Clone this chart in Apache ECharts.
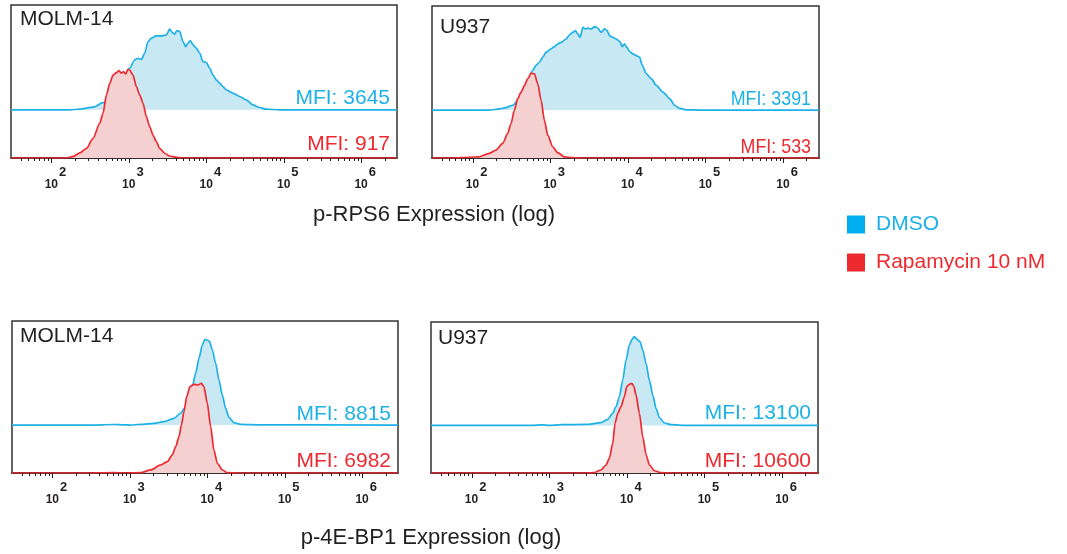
<!DOCTYPE html>
<html>
<head>
<meta charset="utf-8">
<script src="https://cdn.jsdelivr.net/npm/echarts@6/dist/echarts.min.js"></script>
<style>
html,body{margin:0;padding:0;background:#fff;}
#chart{width:1067px;height:554px;}
</style>
</head>
<body>
<div id="chart"></div>
<script>
// ---------- DATA ----------
const panelTitles = ['MOLM-14', 'U937', 'MOLM-14', 'U937'];
const axisTitles = ['p-RPS6 Expression (log)', 'p-4E-BP1 Expression (log)'];
const legendNames = ['DMSO', 'Rapamycin 10 nM'];
const mfiDmso = ['MFI: 3645', 'MFI: 3391', 'MFI: 8815', 'MFI: 13100'];
const mfiRapa = ['MFI: 917', 'MFI: 533', 'MFI: 6982', 'MFI: 10600'];
const majorTickValues = [100, 1000, 10000, 100000, 1000000];
const minorTickMultipliers = [2, 3, 4, 5, 6, 7, 8, 9];

// histogram heights (fluorescence value, relative event count)
const rps6MolmDmso = [[30,0],[172,0],[232,0.4],[345,1.7],[463,4.7],[565,5.9],[760,16.5],[1023,27.2],[1188,32.7],[1313,33.7],[1449,32.9],[1600,37.0],[1766,44.6],[1950,46.8],[2263,48.3],[2626,48.3],[3047,49.0],[3360,52.7],[3641,50.5],[3898,49.4],[4177,51.8],[4523,51.2],[4993,44.6],[5408,41.3],[5795,43.6],[6220,45.3],[6717,42.5],[7424,40.3],[8200,37.0],[9045,31.5],[10000,30.9],[11040,27.2],[12170,22.8],[13450,19.6],[14860,17.4],[16380,15.2],[18110,13.0],[22030,10.9],[26900,8.7],[32810,6.5],[39920,3.2],[48700,1.5],[59430,0.4],[88300,0],[2900000,0]];
const rps6MolmRapa = [[30,0],[156,0],[190,1.0],[232,3.3],[283,6.3],[345,12.9],[420,22.7],[463,29.2],[513,41.2],[565,48.8],[624,54.2],[690,55.8],[745,57.1],[800,55.4],[857,56.4],[909,54.9],[973,58.0],[1023,57.5],[1130,54.2],[1250,46.6],[1378,41.2],[1521,35.8],[1682,27.0],[1855,20.5],[2047,15.0],[2263,10.7],[2497,6.3],[2896,3.1],[3360,1.3],[4100,0.5],[5000,0],[2900000,0]];
const rps6U937Dmso = [[30,0],[164,0],[221,0.8],[270,1.7],[328,3.2],[401,7.6],[489,16.3],[594,26.1],[657,29.4],[726,31.5],[800,34.8],[885,38.1],[1027,40.3],[1133,41.8],[1250,43.6],[1383,44.6],[1603,46.8],[1770,49.6],[1950,51.1],[2113,52.3],[2263,50.1],[2431,47.9],[2626,54.4],[2844,53.4],[3047,54.0],[3373,53.4],[3718,54.9],[4103,54.0],[4537,51.1],[5004,53.4],[5420,52.3],[5803,49.0],[6400,47.9],[7080,46.8],[7812,45.3],[8468,41.8],[9062,43.6],[9707,41.3],[10510,38.7],[11610,37.0],[12830,35.9],[14160,34.8],[15350,29.4],[17270,24.0],[20030,20.7],[23240,16.3],[28330,11.9],[34540,7.6],[40070,3.2],[46500,1.1],[56750,0.2],[84200,0],[2900000,0]];
const rps6U937Rapa = [[30,0],[55,0],[91,0.5],[122,0.8],[164,3.1],[200,5.2],[244,9.6],[283,16.1],[313,22.7],[345,31.4],[381,39.0],[421,43.3],[465,47.7],[513,52.1],[567,55.8],[626,55.4],[691,48.8],[764,37.9],[842,24.8],[929,15.0],[1077,7.4],[1250,3.5],[1524,0.8],[1950,0.2],[2500,0],[2900000,0]];
const ebp1MolmDmso = [[30,0],[300,0],[600,0.4],[800,0.2],[1000,0],[1377,0.5],[2047,1.2],[2754,2.3],[3707,4.5],[4520,7.8],[5245,12.1],[5794,17.6],[6400,25.3],[7065,34.1],[7800,43.9],[8610,52.7],[9310,56.4],[10000,56.0],[10710,54.9],[11610,49.4],[12800,40.6],[14130,29.7],[15630,19.8],[17230,11.0],[19020,5.1],[22050,1.6],[26900,0.5],[48700,0.2],[2900000,0]];
const ebp1MolmRapa = [[30,0],[300,0],[600,0.3],[900,0],[1377,0.2],[1855,2.0],[2496,5.3],[3047,7.5],[3535,11.9],[3900,17.3],[4305,23.9],[4624,31.6],[4993,40.3],[5408,50.2],[5962,56.8],[6710,58.3],[7560,57.9],[8370,59.0],[9040,56.8],[10000,45.8],[11030,30.5],[12170,15.1],[13450,6.4],[15630,2.0],[18110,0.2],[25000,0],[2900000,0]];
const ebp1U937Dmso = [[30,0],[600,0],[800,0.4],[1000,0],[1413,0.5],[3126,0.7],[4645,1.8],[5665,4.0],[6572,8.0],[7250,12.4],[8000,19.0],[8850,30.1],[9770,43.3],[10770,53.2],[11670,57.0],[12500,58.8],[13550,57.0],[14820,55.4],[16040,49.8],[17700,40.9],[19540,29.8],[21630,19.9],[23850,11.1],[26310,5.1],[30540,1.6],[37260,0.5],[60000,0],[2900000,0]];
const ebp1U937Rapa = [[30,0],[3000,0],[3800,0.2],[4645,2.0],[5390,5.3],[5945,9.7],[6572,19.6],[7044,32.9],[7630,39.5],[8410,43.9],[9290,50.5],[9980,57.2],[10770,58.7],[11560,59.4],[12270,57.6],[13140,51.7],[14500,39.5],[16040,24.1],[17700,12.1],[19540,5.3],[22660,1.5],[27650,0.2],[35000,0],[2900000,0]];

const dmsoSets = [rps6MolmDmso, rps6U937Dmso, ebp1MolmDmso, ebp1U937Dmso];
const rapaSets = [rps6MolmRapa, rps6U937Rapa, ebp1MolmRapa, ebp1U937Rapa];

// ---------- STYLE / LAYOUT ----------
const FONT = '"Liberation Sans", Arial, Helvetica, sans-serif';
const DARK = '#231F20';
const BLUE = '#1DB1E8', BLUE_FILL = '#C8E8F4', BLUE_LEG = '#00AEEF';
const RED = '#EC2A30', RED_FILL = '#F5D0D1', RED_LEG = '#EC2A30';
const OFFSET = 31.5;
const X_MIN = 30, X_MAX = 2900000;
const grids = [
  {left: 11, top: 5, width: 386, height: 153},
  {left: 432, top: 6, width: 387, height: 152},
  {left: 12, top: 321, width: 386, height: 152},
  {left: 431, top: 322, width: 387, height: 151}
];
const titlePos = [[20, 19], [440, 27], [20, 336], [438, 338]];
const mfiPos = [
  {x: 390, yb: 98, yr: 144, sx: 1},
  {x: 811, yb: 99, yr: 147, sx: 0.85},
  {x: 391, yb: 414, yr: 461, sx: 1},
  {x: 811, yb: 413, yr: 461, sx: 1}
];

const ticks = [];
majorTickValues.forEach(v => ticks.push([v, 1]));
[10, 100, 1000, 10000, 100000, 1000000].forEach(d => minorTickMultipliers.forEach(m => {
  const v = d * m; if (v > X_MIN && v < X_MAX) ticks.push([v, 0]);
}));

const xAxes = [], yAxes = [], series = [], graphics = [];
grids.forEach((g, i) => {
  xAxes.push({
    type: 'log', logBase: 10, gridIndex: i, min: X_MIN, max: X_MAX,
    axisLine: {show: true, lineStyle: {color: DARK, width: 1.5}},
    axisTick: {show: false}, splitLine: {show: false}, minorTick: {show: false},
    axisLabel: {
      show: true, margin: 8, showMinLabel: false, showMaxLabel: false,
      formatter: function (v) { return '{b|10}{s|' + Math.round(Math.log10(v)) + '}'; },
      rich: {
        b: {fontSize: 12, fontWeight: 'bold', color: DARK, fontFamily: FONT, padding: [12, 0, 0, 8]},
        s: {fontSize: 13, fontWeight: 'bold', color: DARK, fontFamily: FONT, padding: [0, 0, 12, 1]}
      }
    }
  });
  yAxes.push({type: 'value', gridIndex: i, min: 0, max: 100, show: false});
  series.push({
    name: legendNames[0], type: 'line', xAxisIndex: i, yAxisIndex: i,
    data: dmsoSets[i].map(p => [p[0], p[1] + OFFSET]),
    showSymbol: false, symbol: 'none', smooth: 0.25, smoothMonotone: 'x',
    itemStyle: {color: BLUE},
    lineStyle: {color: BLUE, width: 1.7},
    areaStyle: {color: BLUE_FILL, opacity: 1, origin: OFFSET},
    silent: true, z: 2
  });
  series.push({
    name: legendNames[1], type: 'line', xAxisIndex: i, yAxisIndex: i,
    data: rapaSets[i],
    showSymbol: false, symbol: 'none', smooth: 0.25, smoothMonotone: 'x',
    itemStyle: {color: RED},
    lineStyle: {color: RED, width: 1.7},
    areaStyle: {color: RED_FILL, opacity: 1, origin: 'start'},
    silent: true, z: 3
  });
  series.push({
    type: 'custom', xAxisIndex: i, yAxisIndex: i, data: ticks, clip: false, silent: true, z: 4,
    renderItem: function (params, api) {
      const p = api.coord([api.value(0), 0]);
      const len = api.value(1) ? 5 : 3;
      const x = Math.round(p[0]) + 0.5;
      return {type: 'line', shape: {x1: x, y1: p[1], x2: x, y2: p[1] + len},
        style: {stroke: DARK, lineWidth: 1}};
    }
  });
  graphics.push({type: 'text', x: titlePos[i][0], y: titlePos[i][1],
    style: {text: panelTitles[i], fill: DARK, font: '21px ' + FONT, verticalAlign: 'middle', align: 'left'}});
  graphics.push({type: 'text', x: mfiPos[i].x, y: mfiPos[i].yb, scaleX: mfiPos[i].sx,
    style: {text: mfiDmso[i], fill: BLUE, font: '21px ' + FONT, verticalAlign: 'middle', align: 'right'}});
  graphics.push({type: 'text', x: mfiPos[i].x, y: mfiPos[i].yr, scaleX: mfiPos[i].sx,
    style: {text: mfiRapa[i], fill: RED, font: '21px ' + FONT, verticalAlign: 'middle', align: 'right'}});
});
graphics.push({type: 'text', x: 434, y: 215,
  style: {text: axisTitles[0], fill: DARK, font: '22px ' + FONT, verticalAlign: 'middle', align: 'center'}});
graphics.push({type: 'text', x: 431, y: 538,
  style: {text: axisTitles[1], fill: DARK, font: '22px ' + FONT, verticalAlign: 'middle', align: 'center'}});

const option = {
  animation: false,
  backgroundColor: '#fff',
  grid: grids.map(g => Object.assign({show: true, borderColor: '#333', borderWidth: 1.5, backgroundColor: 'transparent'}, g)),
  xAxis: xAxes,
  yAxis: yAxes,
  legend: {
    orient: 'vertical', left: 847, top: 214, itemWidth: 18, itemHeight: 18, itemGap: 17,
    selectedMode: false, padding: 0,
    textStyle: {fontSize: 21, fontFamily: FONT, padding: [0, 0, 0, 6]},
    data: [
      {name: legendNames[0], icon: 'rect', itemStyle: {color: BLUE_LEG, borderWidth: 0}, textStyle: {color: BLUE}},
      {name: legendNames[1], icon: 'rect', itemStyle: {color: RED_LEG, borderWidth: 0}, textStyle: {color: RED}}
    ]
  },
  graphic: graphics,
  series: series
};
const chart = echarts.init(document.getElementById('chart'), null, {renderer: 'canvas'});
chart.setOption(option);
</script>
</body>
</html>
